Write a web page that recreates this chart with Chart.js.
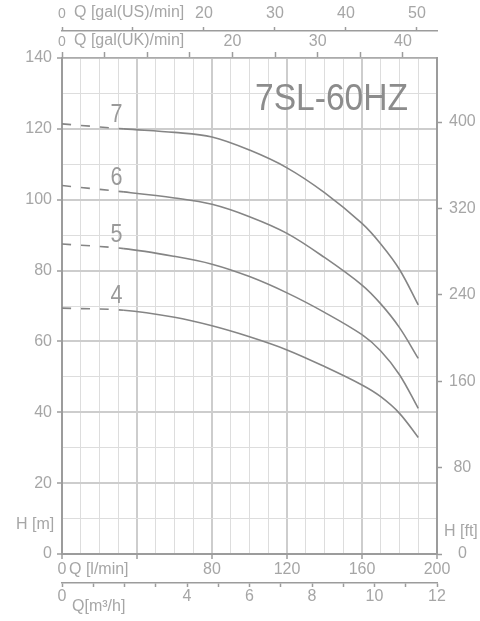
<!DOCTYPE html>
<html lang="en">
<head>
    <meta charset="UTF-8">
    <title>7SL-60HZ</title>
    <script src="https://cdn.jsdelivr.net/npm/chart.js@4.4.0/dist/chart.umd.min.js"></script>
    <style>
        body {
            margin: 0;
            background: #ffffff;
        }
        #wrap {
            width: 480px;
            height: 621px;
        }
    </style>
</head>
<body>
    <div id="wrap"><canvas id="pumpChart" width="480" height="621"></canvas></div>

    <script>
        // flow points (l/min) and head (m) for each curve
        const flowLpm = [0, 33, 60, 80, 100, 120, 140, 160, 170, 180, 190];
        const head7 = [121.4, 120.0, 119.0, 117.7, 114.0, 109.0, 102.0, 93.3, 87.5, 80.3, 70.3];
        const head6 = [104.0, 102.2, 100.5, 98.7, 95.2, 90.5, 83.7, 75.9, 70.6, 63.9, 55.2];
        const head5 = [87.5, 86.2, 84.0, 81.8, 78.3, 73.7, 68.2, 61.9, 57.3, 50.6, 41.1];
        const head4 = [69.4, 68.8, 66.8, 64.4, 61.3, 57.6, 52.9, 47.7, 44.4, 39.7, 32.9];
        const curveNames = ['7', '6', '5', '4'];
        const dashEndLpm = 33;   // dashed part of each curve ends here
        const nameAtLpm = 29;    // where the stage numbers sit

        // labelled ticks on each axis
        const lpmLabels = [0, 80, 120, 160, 200];
        const m3Labels = [0, 4, 6, 8, 10, 12];
        const usLabels = [0, 20, 30, 40, 50];
        const ukLabels = [0, 20, 30, 40];
        const mLabels = [0, 20, 40, 60, 80, 100, 120, 140];

        const FONT = '"Liberation Sans", Arial, Helvetica, sans-serif';
        const TEXT = '#a6a6a6';
        const AXIS = '#9c9c9c';
        const GRID_MAJOR = '#cdcdcd';
        const GRID_MINOR = '#dddddd';
        const CURVE = '#858585';
        const NONE = 'rgba(0,0,0,0)';

        const lpmMax = 200;
        const hMax = 140;

        function fixSize(prop, size) {
            return function (scale) { scale[prop] = size; };
        }

        function labelFont(ctx) {
            return { family: FONT, size: 16 };
        }

        function topFont(ctx) {
            const zero = ctx.tick && ctx.tick.value === 0;
            return { family: FONT, size: zero ? 14 : 16 };
        }

        const datasets = [head7, head6, head5, head4].map((heads, i) => ({
            label: curveNames[i],
            data: flowLpm.map((q, k) => ({ x: q, y: heads[k] })),
            borderColor: CURVE,
            borderWidth: 1.6,
            pointRadius: 0,
            fill: false,
            tension: 0.35,
            segment: {
                borderDash: ctx => ctx.p1.parsed.x <= dashEndLpm ? [9, 10] : undefined
            }
        }));

        // axis names, model title and stage numbers
        const textPlugin = {
            id: 'texts',
            afterDraw(chart) {
                const c = chart.ctx;
                c.save();
                c.fillStyle = TEXT;
                c.font = '16px ' + FONT;
                c.textAlign = 'left';
                c.textBaseline = 'middle';
                c.fillText('Q [gal(US)/min]', 74, 13);
                c.fillText('Q [gal(UK)/min]', 74, 41);
                c.fillText('Q [l/min]', 69, 570);
                c.fillText('Q[m\u00b3/h]', 72, 607);
                c.fillText('H [m]', 16, 525);
                c.fillText('H [ft]', 444, 532);

                c.fillStyle = '#8c8c8c';
                c.font = '37px ' + FONT;
                c.textAlign = 'right';
                c.textBaseline = 'alphabetic';
                c.fillText('7SL-60HZ', 408, 110, 153);

                const xs = chart.scales.x;
                c.fillStyle = '#9a9a9a';
                c.font = '26px ' + FONT;
                c.textAlign = 'center';
                chart.data.datasets.forEach((ds, i) => {
                    const pt = chart.getDatasetMeta(i).data[1];
                    c.fillText(curveNames[i], xs.getPixelForValue(nameAtLpm), pt.y - 7, 12);
                });
                c.restore();
            }
        };

        new Chart(document.getElementById('pumpChart'), {
            type: 'line',
            data: { datasets: datasets },
            plugins: [textPlugin],
            options: {
                responsive: false,
                animation: false,
                layout: { padding: 0 },
                plugins: {
                    legend: { display: false },
                    tooltip: { enabled: false }
                },
                scales: {
                    x: {
                        type: 'linear',
                        position: 'bottom',
                        weight: 0,
                        min: 0,
                        max: lpmMax,
                        afterFit: fixSize('height', 29),
                        border: { display: true, color: AXIS, width: 2 },
                        grid: {
                            color: ctx => ctx.tick.value % 40 === 0 ? GRID_MAJOR : GRID_MINOR,
                            lineWidth: ctx => ctx.tick.value % 40 === 0 ? 2 : 1,
                            tickColor: ctx => ctx.tick.value % 40 === 0 ? AXIS : NONE,
                            tickLength: 5,
                            tickWidth: 1.5
                        },
                        ticks: {
                            stepSize: 10,
                            autoSkip: false,
                            maxRotation: 0,
                            padding: 1,
                            color: TEXT,
                            font: labelFont,
                            callback: v => lpmLabels.includes(v) ? String(v) : ''
                        }
                    },
                    xM3: {
                        type: 'linear',
                        axis: 'x',
                        position: 'bottom',
                        weight: 1,
                        min: 0,
                        max: 12,
                        afterFit: fixSize('height', 38),
                        border: { display: true, color: AXIS, width: 1.5 },
                        grid: {
                            drawOnChartArea: false,
                            tickColor: AXIS,
                            tickLength: 4,
                            tickWidth: 1.5
                        },
                        ticks: {
                            stepSize: 1,
                            autoSkip: false,
                            maxRotation: 0,
                            padding: 0,
                            color: TEXT,
                            font: labelFont,
                            callback: v => m3Labels.includes(v) ? String(v) : ''
                        }
                    },
                    xUK: {
                        type: 'linear',
                        axis: 'x',
                        position: 'top',
                        weight: 0,
                        min: 0,
                        max: lpmMax / 4.54609,
                        afterFit: fixSize('height', 27),
                        border: { display: true, color: '#ababab', width: 1.5 },
                        grid: {
                            drawOnChartArea: false,
                            tickColor: AXIS,
                            tickLength: 6,
                            tickWidth: 1.5
                        },
                        ticks: {
                            stepSize: 5,
                            includeBounds: false,
                            autoSkip: false,
                            maxRotation: 0,
                            padding: 1,
                            color: TEXT,
                            font: topFont,
                            callback: v => ukLabels.includes(v) ? String(v) : ''
                        }
                    },
                    xUS: {
                        type: 'linear',
                        axis: 'x',
                        position: 'top',
                        weight: 1,
                        min: 0,
                        max: lpmMax / 3.78541,
                        afterFit: fixSize('height', 31),
                        border: { display: true, color: AXIS, width: 1.5 },
                        grid: {
                            drawOnChartArea: false,
                            tickColor: AXIS,
                            tickLength: 4,
                            tickWidth: 1.5
                        },
                        ticks: {
                            stepSize: 10,
                            includeBounds: false,
                            autoSkip: false,
                            maxRotation: 0,
                            padding: 4,
                            color: TEXT,
                            font: topFont,
                            callback: v => usLabels.includes(v) ? String(v) : ''
                        }
                    },
                    y: {
                        type: 'linear',
                        position: 'left',
                        min: 0,
                        max: hMax,
                        afterFit: fixSize('width', 62),
                        border: { display: true, color: AXIS, width: 2 },
                        grid: {
                            color: ctx => ctx.tick.value % 20 === 0 ? GRID_MAJOR : GRID_MINOR,
                            lineWidth: ctx => ctx.tick.value % 20 === 0 ? 2 : 1,
                            tickColor: ctx => ctx.tick.value % 20 === 0 ? AXIS : NONE,
                            tickLength: 5,
                            tickWidth: 1.5
                        },
                        ticks: {
                            stepSize: 10,
                            autoSkip: false,
                            padding: 5,
                            color: TEXT,
                            font: labelFont,
                            callback: v => mLabels.includes(v) ? String(v) : ''
                        }
                    },
                    yFt: {
                        type: 'linear',
                        axis: 'y',
                        position: 'right',
                        min: 0,
                        max: hMax * 3.28084,
                        afterFit: fixSize('width', 43),
                        border: { display: true, color: AXIS, width: 2 },
                        grid: {
                            drawOnChartArea: false,
                            tickColor: AXIS,
                            tickLength: 5,
                            tickWidth: 1.5
                        },
                        ticks: {
                            stepSize: 80,
                            includeBounds: false,
                            autoSkip: false,
                            padding: 7,
                            crossAlign: 'center',
                            color: TEXT,
                            font: labelFont
                        }
                    }
                }
            }
        });
    </script>
</body>
</html>
